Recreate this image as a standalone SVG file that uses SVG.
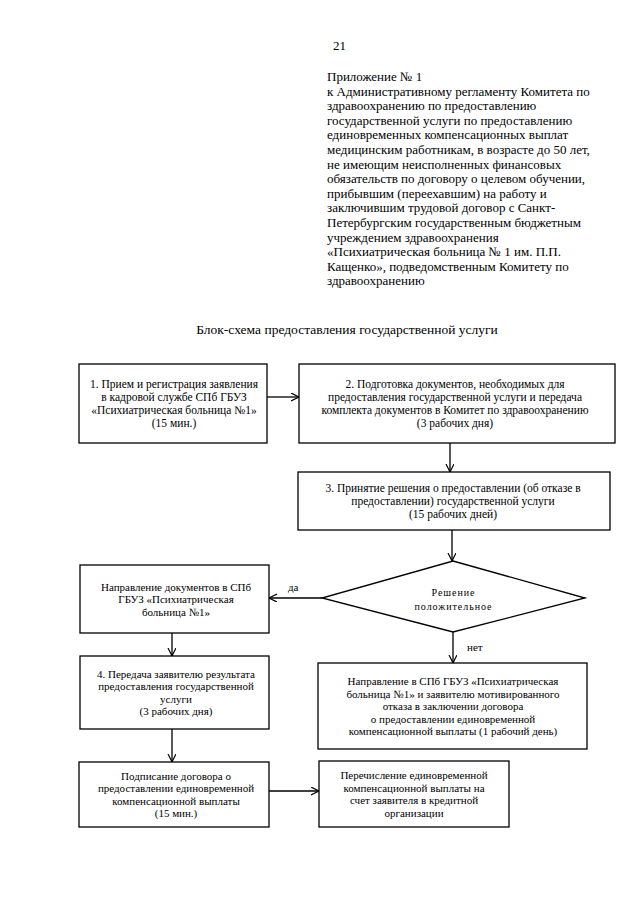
<svg xmlns="http://www.w3.org/2000/svg" width="640" height="905" viewBox="0 0 640 905">
<defs>
<marker id="arr" markerUnits="userSpaceOnUse" markerWidth="10" markerHeight="10" refX="8" refY="4" orient="auto">
<path d="M0,0 L8,4 L0,8" fill="none" stroke="#000" stroke-width="1.2"/>
</marker>
<style>
text{font-family:"Liberation Serif","Times New Roman",serif;fill:#000}
.hd{font-size:13px}
.bx{font-size:11.5px;text-anchor:middle}
.bs{font-size:11px;text-anchor:middle}
.box{fill:#fff;stroke:#000;stroke-width:1.3}
.con{fill:none;stroke:#000;stroke-width:1.3;marker-end:url(#arr)}
</style>
</defs>
<rect width="640" height="905" fill="#fff"/>
<g id="header">
<text class="hd" x="333" y="50">21</text>
<text class="hd" x="327" y="81">Приложение № 1</text>
<text class="hd" x="327" y="95.6">к Административному регламенту Комитета по</text>
<text class="hd" x="327" y="110.2">здравоохранению по предоставлению</text>
<text class="hd" x="327" y="124.8">государственной услуги по предоставлению</text>
<text class="hd" x="327" y="139.4">единовременных компенсационных выплат</text>
<text class="hd" x="327" y="154">медицинским работникам, в возрасте до 50 лет,</text>
<text class="hd" x="327" y="168.6">не имеющим неисполненных финансовых</text>
<text class="hd" x="327" y="183.2">обязательств по договору о целевом обучении,</text>
<text class="hd" x="327" y="197.8">прибывшим (переехавшим) на работу и</text>
<text class="hd" x="327" y="212.4">заключившим трудовой договор с Санкт-</text>
<text class="hd" x="327" y="227">Петербургским государственным бюджетным</text>
<text class="hd" x="327" y="241.6">учреждением здравоохранения</text>
<text class="hd" x="327" y="256.2">«Психиатрическая больница № 1 им. П.П.</text>
<text class="hd" x="327" y="270.8">Кащенко», подведомственным Комитету по</text>
<text class="hd" x="327" y="285.4">здравоохранению</text>
</g>
<g id="title">
<text class="hd" x="347" y="334" text-anchor="middle" style="font-size:13.5px">Блок-схема предоставления государственной услуги</text>
</g>
<g id="connectors">
<line class="con" x1="267" y1="397" x2="299" y2="397"/>
<line class="con" x1="450" y1="443" x2="450" y2="472"/>
<line class="con" x1="452" y1="530" x2="452" y2="561"/>
<line class="con" x1="322" y1="598" x2="269" y2="598"/>
<line class="con" x1="453" y1="632" x2="453" y2="663"/>
<line class="con" x1="172" y1="633" x2="172" y2="656"/>
<line class="con" x1="172" y1="729" x2="172" y2="762"/>
<line class="con" x1="269" y1="791" x2="319" y2="791"/>
<text class="hd" x="288" y="591" style="font-size:11px">да</text>
<text class="hd" x="467" y="651" style="font-size:11px">нет</text>
</g>
<g id="step1">
<rect class="box" x="79" y="364" width="188" height="79"/>
<text class="bx" x="174" y="388">1. Прием и регистрация заявления</text>
<text class="bx" x="174" y="401">в кадровой службе СПб ГБУЗ</text>
<text class="bx" x="174" y="414">«Психиатрическая больница №1»</text>
<text class="bx" x="174" y="427">(15 мин.)</text>
</g>
<g id="step2">
<rect class="box" x="299" y="364" width="316" height="79"/>
<text class="bx" x="455" y="388">2. Подготовка документов, необходимых для</text>
<text class="bx" x="455" y="401">предоставления государственной услуги и передача</text>
<text class="bx" x="455" y="414">комплекта документов в Комитет по здравоохранению</text>
<text class="bx" x="455" y="427">(3 рабочих дня)</text>
</g>
<g id="step3">
<rect class="box" x="298" y="472" width="312" height="58"/>
<text class="bx" x="453" y="492">3. Принятие решения о предоставлении (об отказе в</text>
<text class="bx" x="453" y="505">предоставлении) государственной услуги</text>
<text class="bx" x="453" y="518">(15 рабочих дней)</text>
</g>
<g id="decision">
<polygon class="box" points="453,561 585,598 453,632 322,598"/>
<text class="bs" x="453" y="595.5" textLength="43" lengthAdjust="spacing" style="font-size:10px">Решение</text>
<text class="bs" x="453" y="609.5" textLength="77" lengthAdjust="spacing" style="font-size:10px">положительное</text>
</g>
<g id="send-docs">
<rect class="box" x="80" y="565" width="189" height="68"/>
<text class="bs" x="176" y="590.5">Направление документов в СПб</text>
<text class="bs" x="176" y="603">ГБУЗ «Психиатрическая</text>
<text class="bs" x="176" y="615.5">больница №1»</text>
</g>
<g id="step4">
<rect class="box" x="80" y="656" width="189" height="73"/>
<text class="bs" x="176" y="677.5">4. Передача заявителю результата</text>
<text class="bs" x="176" y="690">предоставления государственной</text>
<text class="bs" x="176" y="702.5">услуги</text>
<text class="bs" x="176" y="715">(3 рабочих дня)</text>
</g>
<g id="refusal">
<rect class="box" x="318" y="663" width="269" height="86"/>
<text class="bs" x="453" y="685">Направление в СПб ГБУЗ «Психиатрическая</text>
<text class="bs" x="453" y="697.5">больница №1» и заявителю мотивированного</text>
<text class="bs" x="453" y="710">отказа в заключении договора</text>
<text class="bs" x="453" y="722.5">о предоставлении единовременной</text>
<text class="bs" x="453" y="735">компенсационной выплаты (1 рабочий день)</text>
</g>
<g id="step5">
<rect class="box" x="79" y="762" width="190" height="65"/>
<text class="bs" x="176" y="779.5">Подписание договора о</text>
<text class="bs" x="176" y="792">предоставлении единовременной</text>
<text class="bs" x="176" y="804.5">компенсационной выплаты</text>
<text class="bs" x="176" y="817">(15 мин.)</text>
</g>
<g id="payment">
<rect class="box" x="319" y="761" width="190" height="66"/>
<text class="bs" x="414" y="779">Перечисление единовременной</text>
<text class="bs" x="414" y="791.5">компенсационной выплаты на</text>
<text class="bs" x="414" y="804">счет заявителя в кредитной</text>
<text class="bs" x="414" y="816.5">организации</text>
</g>
</svg>
